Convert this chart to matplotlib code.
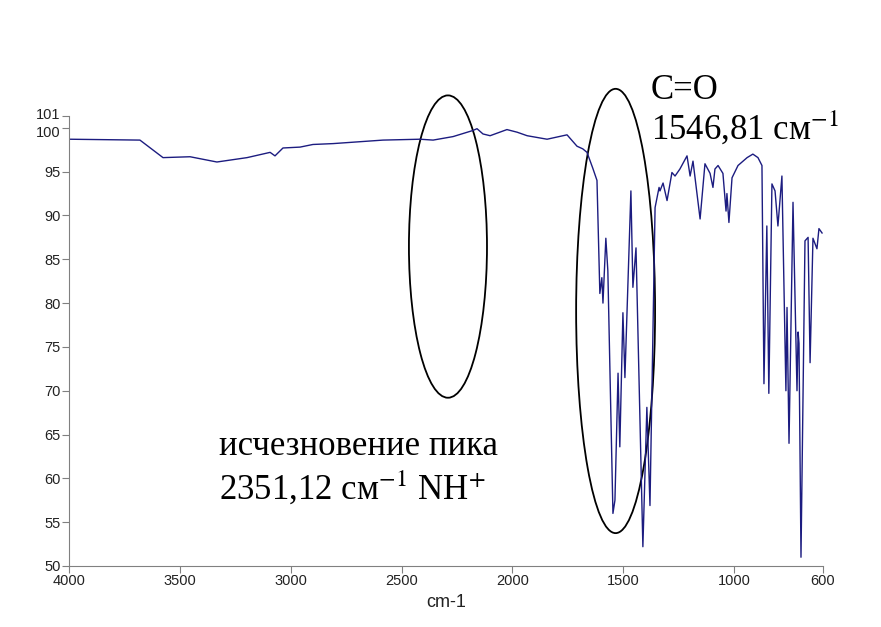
import matplotlib.pyplot as plt
from matplotlib.patches import Ellipse
from matplotlib.transforms import ScaledTranslation

# IR spectrum, values (wavenumber cm-1, transmittance %)
wavenumber = [4000, 3680, 3576, 3454, 3333, 3197, 3093, 3071, 3035, 2958, 2900,
              2809, 2584, 2417, 2358, 2268, 2178, 2160, 2133, 2101, 2025, 1979,
              1934, 1844, 1754, 1709, 1683, 1664, 1638, 1619, 1606, 1597, 1592,
              1579, 1570, 1547, 1538, 1524, 1516, 1502, 1493, 1466, 1457, 1443,
              1412, 1394, 1380, 1357, 1339, 1335, 1321, 1303, 1281, 1267, 1245,
              1213, 1199, 1186, 1154, 1132, 1109, 1096, 1087, 1073, 1051, 1037,
              1033, 1024, 1010, 983, 942, 916, 893, 875, 866, 853, 844, 830, 816,
              803, 785, 767, 762, 753, 735, 717, 712, 708, 699, 681, 667, 658,
              645, 627, 618, 604]
transmittance = [98.7, 98.6, 96.6, 96.7, 96.1, 96.6, 97.2, 96.8, 97.7, 97.8, 98.1,
                 98.2, 98.6, 98.7, 98.6, 99.0, 99.7, 99.9, 99.3, 99.1, 99.8, 99.5,
                 99.1, 98.7, 99.2, 97.9, 97.6, 97.2, 95.4, 94.0, 81.1, 82.9, 80.0,
                 87.4, 83.7, 56.0, 57.5, 72.0, 63.6, 78.9, 71.5, 92.8, 81.8, 86.3,
                 52.2, 68.1, 56.9, 90.9, 93.2, 92.8, 93.7, 91.7, 94.9, 94.5, 95.3,
                 96.8, 94.5, 96.2, 89.6, 95.9, 94.8, 93.2, 95.3, 95.7, 94.8, 90.5,
                 92.5, 89.2, 94.3, 95.7, 96.6, 97.0, 96.6, 95.7, 70.8, 88.8, 69.7,
                 93.6, 92.8, 88.8, 94.5, 70.0, 79.5, 64.0, 91.5, 70.0, 76.7, 75.4,
                 51.0, 87.1, 87.5, 73.2, 87.4, 86.2, 88.5, 88.0]

x_ticks = [4000, 3500, 3000, 2500, 2000, 1500, 1000, 600]
# top of the axis sits a bit above 101 and is labelled "101"
y_top = 101.35
y_ticks = [50, 55, 60, 65, 70, 75, 80, 85, 90, 95, 100, y_top]
y_labels = ['50', '55', '60', '65', '70', '75', '80', '85', '90', '95', '100', '101']

plt.rcParams['mathtext.fontset'] = 'stix'

fig = plt.figure(figsize=(8.81, 6.27), dpi=100)
ax = fig.add_axes([0.0783, 0.0973, 0.8558, 0.7177])

ax.plot(wavenumber, transmittance, color='#1c1c80', lw=1.0)

ax.set_xlim(4000, 600)
ax.set_ylim(50, y_top)
ax.set_xticks(x_ticks)
ax.set_yticks(y_ticks)
ax.set_yticklabels(y_labels)
ax.tick_params(direction='out', length=5, color='#808080', labelcolor='#222222',
               labelsize=10.5, pad=1)
for lab in ax.get_xticklabels() + ax.get_yticklabels():
    lab.set_family('Liberation Sans')
# nudge "100" and "101" apart like in the original
ylabs = ax.get_yticklabels()
ylabs[-2].set_transform(ylabs[-2].get_transform() + ScaledTranslation(0, -3 / 72, fig.dpi_scale_trans))
ylabs[-1].set_transform(ylabs[-1].get_transform() + ScaledTranslation(0, 1.5 / 72, fig.dpi_scale_trans))
for side in ['top', 'right']:
    ax.spines[side].set_visible(False)
for side in ['left', 'bottom']:
    ax.spines[side].set_color('#808080')
ax.set_xlabel('cm-1', fontsize=13, family='Liberation Sans', color='#222222', labelpad=4)

# ellipses marking the regions of interest
ax.add_patch(Ellipse((2291, 86.45), 352, 34.5, fill=False, ec='black', lw=1.3, clip_on=False))
ax.add_patch(Ellipse((1535, 79.1), 356, 50.7, fill=False, ec='black', lw=1.3, clip_on=False))

fig.text(0.739, 0.842, 'C=O', fontsize=25, family='Liberation Serif', va='baseline')
fig.text(0.739, 0.777, '1546,81 см$^{-1}$', fontsize=25, family='Liberation Serif', va='baseline')
fig.text(0.249, 0.274, 'исчезновение пика', fontsize=25, family='Liberation Serif', va='baseline')
fig.text(0.249, 0.203, '2351,12 см$^{-1}$ NH$^{+}$', fontsize=25, family='Liberation Serif', va='baseline')

fig.savefig('out.png', dpi=100)
